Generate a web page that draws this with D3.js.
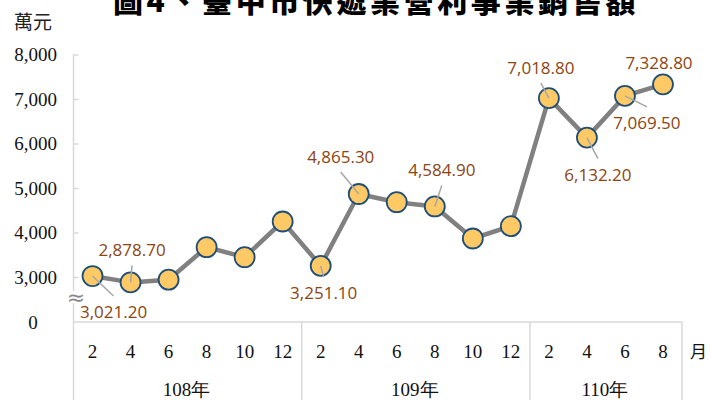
<!DOCTYPE html>
<html><head><meta charset="utf-8">
<script src="https://cdn.jsdelivr.net/npm/d3@7"></script>
<style>body{margin:0;background:#fff}svg{display:block}</style>
</head><body><svg id="c" width="710" height="400"></svg>
<script>
const title = "圖4、臺中市快遞業營利事業銷售額";
const unitLabel = "萬元";
const monthUnit = "月";
const years = ["108年", "109年", "110年"];
const months = ["2","4","6","8","10","12","2","4","6","8","10","12","2","4","6","8"];
const yearOfPoint = [0,0,0,0,0,0,1,1,1,1,1,1,2,2,2,2];
const values = [3021.2, 2878.7, 2940, 3670, 3445, 4247, 3251.1, 4865.3, 4681, 4584.9, 3865, 4142, 7018.8, 6132.2, 7069.5, 7328.8];
const labeled = [true, true, false, false, false, false, true, true, false, true, false, false, true, true, true, true];
const yTicks = [3000, 4000, 5000, 6000, 7000, 8000];
const yBreakValue = 2000;
const yBreakLabel = "0";
// layout only: label offsets from point (dx, dy), and whether to draw a leader
const labelOffsets = {0:[21,36,1],1:[1.5,-32,1],6:[3,27,1],7:[-18,-37,1],9:[7,-36,1],12:[-8,-30,1],13:[11,37,1],14:[22,27,1],15:[-4,-21,0]};

(function () {
const svg = d3.select("#c");
const mLeft = 73.5, mRight = 682, mTop = 54.5, mBottom = 321.5;
const x = d3.scaleBand().domain(d3.range(values.length)).range([mLeft, mRight]);
const y = d3.scaleLinear().domain([yBreakValue, 8000]).range([mBottom, mTop]);
const axisColor = "#D9D9D9";
const serif = "'Liberation Serif','Times New Roman',serif";

// title
svg.append("text").attr("x", 113).attr("y", 12)
  .attr("font-family", "'Noto Sans CJK TC','Noto Sans CJK SC',sans-serif")
  .attr("font-weight", 900).attr("font-size", 30).attr("letter-spacing", 3.6)
  .attr("fill", "#000").text(title);

svg.append("text").attr("x", 14).attr("y", 29)
  .attr("font-family", "'Noto Sans CJK TC',serif").attr("font-size", 19)
  .attr("fill", "#222").text(unitLabel);

// y axis
const yAxis = d3.axisRight(y).tickValues(yTicks).tickSize(5).tickFormat("");
const gy = svg.append("g").attr("transform", `translate(${mLeft},0)`).call(yAxis);
gy.select(".domain").remove();
gy.selectAll(".tick line").attr("stroke", axisColor).attr("stroke-width", 1.5);
svg.append("line").attr("x1", mLeft).attr("x2", mLeft).attr("y1", mTop).attr("y2", 400)
  .attr("stroke", axisColor).attr("stroke-width", 1.5);

svg.selectAll("text.ytl").data(yTicks).join("text").attr("class", "ytl")
  .attr("x", 57).attr("y", d => y(d) + 6.5).attr("text-anchor", "end")
  .attr("font-family", serif).attr("font-size", 19).attr("fill", "#111")
  .text(d => d3.format(",")(d));
svg.append("text").attr("x", 33).attr("y", y(yBreakValue) + 7).attr("text-anchor", "middle")
  .attr("font-family", serif).attr("font-size", 19).attr("fill", "#111").text(yBreakLabel);

// x axis
svg.append("line").attr("x1", mLeft).attr("x2", mRight).attr("y1", mBottom + 0.5).attr("y2", mBottom + 0.5)
  .attr("stroke", axisColor).attr("stroke-width", 1.5);
const yearBounds = years.map((yr, k) => {
  const idx = yearOfPoint.map((v, i) => v === k ? i : -1).filter(i => i >= 0);
  return [x(idx[0]), x(idx[idx.length - 1]) + x.bandwidth()];
});
yearBounds.forEach(b => {
  svg.append("line").attr("x1", b[1]).attr("x2", b[1]).attr("y1", mBottom).attr("y2", 400)
    .attr("stroke", axisColor).attr("stroke-width", 1.5);
});
svg.selectAll("text.mon").data(months).join("text").attr("class", "mon")
  .attr("x", (d, i) => x(i) + x.bandwidth() / 2).attr("y", 358).attr("text-anchor", "middle")
  .attr("font-family", serif).attr("font-size", 19).attr("fill", "#111").text(d => d);
svg.append("text").attr("x", 690).attr("y", 358)
  .attr("font-family", "'Noto Sans CJK TC',serif").attr("font-size", 17).attr("fill", "#111").text(monthUnit);
svg.selectAll("text.yr").data(years).join("text").attr("class", "yr")
  .attr("x", (d, k) => (yearBounds[k][0] + yearBounds[k][1]) / 2 - 1).attr("y", 396).attr("text-anchor", "middle")
  .attr("font-family", serif).attr("font-size", 19).attr("fill", "#111").text(d => d);

// break symbol
svg.append("rect").attr("x", mLeft - 3).attr("y", 291).attr("width", 6).attr("height", 12).attr("fill", "#fff");
svg.append("text").attr("x", 76).attr("y", 305).attr("text-anchor", "middle")
  .attr("font-family", "'DejaVu Sans',sans-serif").attr("font-size", 22).attr("fill", "#888").text("≈");

// line
const cx = i => x(i) + x.bandwidth() / 2;
svg.append("path").datum(values)
  .attr("d", d3.line().x((d, i) => cx(i)).y(d => y(d)))
  .attr("fill", "none").attr("stroke", "#808080").attr("stroke-width", 4.5).attr("stroke-linejoin", "round");

svg.selectAll("circle.pt").data(values).join("circle").attr("class", "pt")
  .attr("cx", (d, i) => cx(i)).attr("cy", d => y(d)).attr("r", 10)
  .attr("fill", "#FFCA66").attr("stroke", "#1F4E79").attr("stroke-width", 1.8);

// labels
values.forEach((v, i) => {
  if (!labeled[i]) return;
  const o = labelOffsets[i];
  const px = cx(i), py = y(v);
  const lx = px + o[0], ly = py + o[1];
  if (o[2]) {
    svg.append("line").attr("x1", px).attr("y1", py)
      .attr("x2", lx).attr("y2", ly + (o[1] < 0 ? 15 : -16))
      .attr("stroke", "#A6A6A6").attr("stroke-width", 1.5);
  }
  svg.append("text").attr("x", lx).attr("y", ly + 6).attr("text-anchor", "middle")
    .attr("font-family", "'Open Sans',sans-serif").attr("font-size", 17).attr("fill", "#8B4513")
    .text(d3.format(",.2f")(v));
});
})();
</script></body></html>
